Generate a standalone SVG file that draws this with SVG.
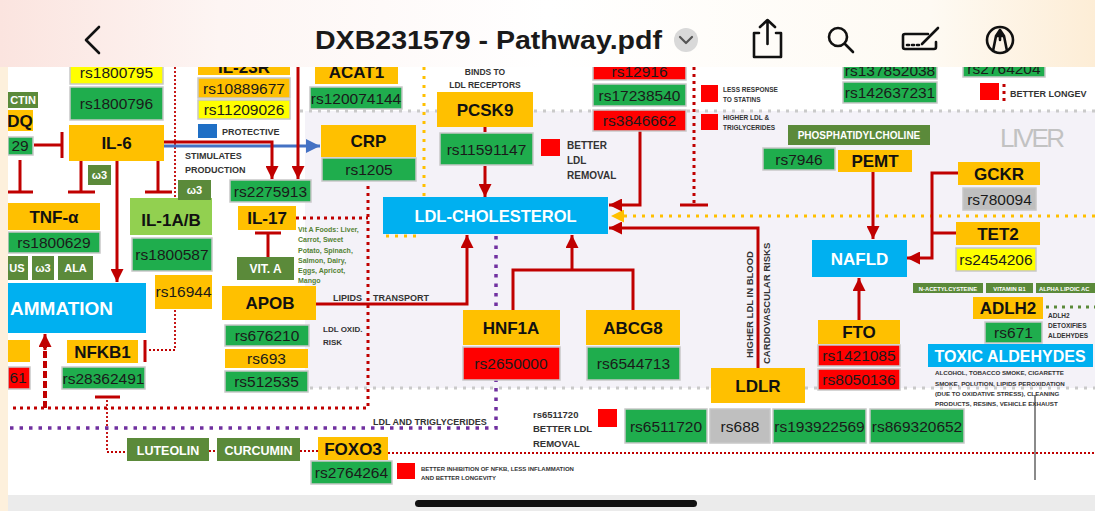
<svg xmlns="http://www.w3.org/2000/svg" width="1095" height="511" viewBox="0 0 1095 511">
<defs>
<linearGradient id="hdr" x1="0" y1="0" x2="1" y2="0">
<stop offset="0" stop-color="#fbe4df"/><stop offset="0.2" stop-color="#fdf5f3"/><stop offset="0.5" stop-color="#ffffff"/><stop offset="0.85" stop-color="#fefaf3"/><stop offset="1" stop-color="#fdedd6"/>
</linearGradient>
<marker id="ar" viewBox="0 0 12 12" refX="12" refY="6" markerWidth="13" markerHeight="13" markerUnits="userSpaceOnUse" orient="auto"><path d="M0,0 L12,6 L0,12 z" fill="#c00000"/></marker>
<marker id="ab" viewBox="0 0 12 12" refX="12" refY="6" markerWidth="14" markerHeight="14" markerUnits="userSpaceOnUse" orient="auto"><path d="M0,0 L12,6 L0,12 z" fill="#4472c4"/></marker>
<marker id="ay" viewBox="0 0 12 12" refX="12" refY="6" markerWidth="13" markerHeight="13" markerUnits="userSpaceOnUse" orient="auto"><path d="M0,0 L12,6 L0,12 z" fill="#ffc000"/></marker>
<style>
.o{fill:#ffc000}.g{fill:#1fad4d}.r{fill:#ff0000}.y{fill:#ffff00}.b{fill:#00b0f0}.d{fill:#5b8a3a}.l{fill:#92d050}.s{fill:#bfbfbf}
.k{stroke:#c8c8c8;stroke-width:1.5}
text{font-family:"Liberation Sans",Arial,sans-serif}
.n{font-weight:bold;font-size:17px;fill:#111;text-anchor:middle}
.v{font-size:15.5px;fill:#1a1a1a;text-anchor:middle}
.w{font-weight:bold;fill:#fff;text-anchor:middle}
.ws{font-weight:bold;fill:#fff;text-anchor:start}
.t{font-weight:bold;fill:#333}
.rl{stroke:#c00000;stroke-width:3;fill:none}
.rd{stroke:#c00000;stroke-width:3;fill:none;stroke-dasharray:3 4}
.rt{stroke:#c00000;stroke-width:1.8;fill:none;stroke-dasharray:2 2}
.pd{stroke:#7030a0;stroke-width:3.5;fill:none;stroke-dasharray:3.5 6}
.yd{stroke:#ffc000;stroke-width:3;fill:none;stroke-dasharray:3 6}
.gd{stroke:#cacaca;stroke-width:3;fill:none;stroke-dasharray:3 6}
.ic{stroke:#111;fill:none;stroke-width:2.6;stroke-linecap:round;stroke-linejoin:round}
</style>
</defs>

<rect x="0" y="0" width="1095" height="511" fill="#ffffff"/>
<rect x="305" y="111" width="790" height="277" fill="#f4f2f8"/>

<g id="connectors">
<path class="gd" d="M300,111 H1095"/>
<path class="gd" d="M310,388 H1095"/>
<path class="rt" d="M175,67 V200"/>
<path class="rd" d="M368,186 V408 H10"/>
<path class="rd" d="M296,218 H368"/>
<path class="rt" d="M175,310 V350 H148"/>
<path class="rl" d="M145,340 V362"/>
<path class="rl" d="M95,397 H120"/>
<path class="rt" d="M107,400 V452 H127"/>
<path class="rt" d="M209,451 H217"/>
<path class="rt" d="M300,451 H318"/>
<path class="rt" d="M388,453 H1095"/>
<path class="pd" d="M496,236 V428 H10"/>
<path class="yd" d="M424,67 V196"/>
<path class="yd" d="M386,236 H420"/>
<path class="yd" d="M1095,216 H611" marker-end="url(#ay)"/>
<path class="rd" d="M694,67 V205"/>
<path class="rl" d="M680,205 H708"/>
<path class="rd" d="M1004,84 V101"/>
<path stroke="#5b8a3a" stroke-width="3" fill="none" stroke-dasharray="3 5" d="M1046,307 H1095"/>
<path stroke="#8a8a8a" stroke-width="2" fill="none" d="M1035,395 V480"/>
<path class="rl" d="M34,145 H62 M62,132 V158"/>
<path class="rl" d="M20,160 V192 M8,192 H33"/>
<path class="rl" d="M81,161 V192 M68,192 H95"/>
<path class="rl" d="M158,161 V192 M145,192 H172"/>
<path class="rl" d="M117,161 V282" marker-end="url(#ar)"/>
<path stroke="#4472c4" stroke-width="3" fill="none" d="M164,146 H320" marker-end="url(#ab)"/>
<path class="rl" d="M164,142 H272 V179" marker-end="url(#ar)"/>
<path class="rl" d="M298,67 V179" marker-end="url(#ar)"/>
<path class="rl" d="M268,257 V233 M255,233 H281"/>
<path stroke="#c00000" stroke-width="4" fill="none" stroke-dasharray="7 3" d="M45,408 V346"/>
<path class="rl" d="M45,350 V334" marker-end="url(#ar)"/>
<path class="rl" d="M316,304 H467 V235" marker-end="url(#ar)"/>
<path class="rl" d="M485,127 V132"/>
<path class="rl" d="M485,166 V197" marker-end="url(#ar)"/>
<path class="rl" d="M640,131 V205 H609" marker-end="url(#ar)"/>
<path class="rl" d="M513,310 V270 H633 V310 M572,270 V235" marker-end="url(#ar)"/>
<path class="rl" d="M758,368 V228 H609" marker-end="url(#ar)"/>
<path class="rl" d="M873,172 V239" marker-end="url(#ar)"/>
<path class="rl" d="M958,173 H932 V258 H907" marker-end="url(#ar)"/>
<path class="rl" d="M956,233 H932"/>
<path class="rl" d="M859,320 V278" marker-end="url(#ar)"/>
</g>

<g id="adiponectin"><rect class="d" x="8" y="92" width="30" height="16"/><text class="w" x="23" y="104" font-size="11">CTIN</text></g>
<g id="adipoq"><rect class="o" x="8" y="110" width="25" height="21"/><text class="n" x="20" y="127">DQ</text></g>
<g id="adipoq-snp"><rect class="g k" x="8" y="137" width="25" height="18"/><text class="v" x="20" y="151">29</text></g>

<g id="il6-snps"><rect class="y k" x="70" y="55" width="93" height="29"/><text class="v" x="116.5" y="78">rs1800795</text>
<rect class="g k" x="70" y="87" width="93" height="33"/><text class="v" x="116.5" y="109">rs1800796</text></g>
<g id="il6"><rect class="o" x="69" y="125" width="95" height="36"/><text class="n" x="116.5" y="149">IL-6</text></g>
<g id="omega3-a"><rect class="d" x="88" y="165" width="23" height="20"/><text class="w" x="99.5" y="179" font-size="11">ω3</text></g>
<g id="stim"><text class="t" x="185" y="159" font-size="9">STIMULATES</text><text class="t" x="185" y="172.5" font-size="9">PRODUCTION</text></g>

<g id="tnfa"><rect class="o" x="8" y="203" width="92" height="27"/><text class="n" x="54" y="222.5">TNF-α</text>
<rect class="g k" x="8" y="232" width="92" height="21"/><text class="v" x="54" y="248">rs1800629</text></g>
<g id="tnf-supp"><rect class="d" x="8" y="256" width="20" height="24"/><text class="w" x="17" y="272" font-size="11">US</text>
<rect class="d" x="32" y="256" width="22" height="24"/><text class="w" x="43" y="272" font-size="11">ω3</text>
<rect class="d" x="58" y="256" width="35" height="24"/><text class="w" x="75.5" y="272" font-size="11">ALA</text></g>

<g id="il1"><rect class="l" x="130" y="198" width="82" height="37"/><text class="n" x="171" y="226">IL-1A/B</text>
<rect class="g k" x="132" y="238" width="80" height="33"/><text class="v" x="172" y="260">rs1800587</text>
<rect class="o" x="155" y="275" width="57" height="34"/><text class="v" x="183.5" y="297">rs16944</text></g>
<g id="omega3-b"><rect class="d" x="178" y="180" width="33" height="20"/><text class="w" x="194.5" y="194" font-size="11">ω3</text></g>

<g id="inflammation"><rect class="b" x="8" y="283" width="138" height="50"/><text class="ws" x="10" y="315" font-size="19">AMMATION</text></g>
<g id="left-cut"><rect class="o" x="8" y="340" width="22" height="22"/><rect class="r k" x="8" y="367" width="22" height="22"/><text class="v" x="18" y="383">61</text></g>
<g id="nfkb1"><rect class="o" x="67" y="340" width="71" height="23"/><text class="n" x="102.5" y="357.5">NFKB1</text>
<rect class="g k" x="62" y="367" width="83" height="22"/><text class="v" x="103.5" y="383.5">rs28362491</text></g>
<g id="luteolin"><rect class="d" x="127" y="438" width="82" height="23"/><text class="w" x="168" y="454.5" font-size="12.5">LUTEOLIN</text></g>
<g id="curcumin"><rect class="d" x="217" y="438" width="83" height="23"/><text class="w" x="258.5" y="454.5" font-size="12.5">CURCUMIN</text></g>
<g id="foxo3"><rect class="o" x="318" y="437" width="70" height="23"/><text class="n" x="353" y="454.5">FOXO3</text>
<rect class="g k" x="311" y="461" width="81" height="23"/><text class="v" x="351.5" y="478">rs2764264</text>
<rect class="r" x="397" y="463" width="18" height="16"/>
<text class="t" x="421" y="470.5" font-size="6">BETTER INHIBITION OF NFKB, LESS INFLAMMATION</text>
<text class="t" x="421" y="479.5" font-size="6">AND BETTER LONGEVITY</text></g>

<g id="il23r"><rect class="o" x="198" y="55" width="92" height="20"/><text class="n" x="244" y="73">IL-23R</text>
<rect class="o k" x="198" y="78" width="92" height="20"/><text class="v" x="244" y="93.5">rs10889677</text>
<rect class="y k" x="198" y="100" width="92" height="19"/><text class="v" x="244" y="115">rs11209026</text>
<rect x="198" y="124" width="19" height="14" fill="#1f6fc5"/><text class="t" x="222" y="134.5" font-size="9">PROTECTIVE</text></g>
<g id="il17"><rect class="g k" x="230" y="180" width="81" height="22"/><text class="v" x="270.5" y="197">rs2275913</text>
<rect class="o" x="238" y="206" width="58" height="24"/><text class="n" x="267" y="224">IL-17</text></g>
<g id="vita"><rect class="d" x="237" y="257" width="57" height="23"/><text class="w" x="265.5" y="273" font-size="12">VIT. A</text>
<g font-size="7" font-weight="bold" fill="#548235"><text x="298" y="232">Vit A Foods: Liver,</text><text x="298" y="242">Carrot, Sweet</text><text x="298" y="252.5">Potato, Spinach,</text><text x="298" y="262.5">Salmon, Dairy,</text><text x="298" y="273">Eggs, Apricot,</text><text x="298" y="283">Mango</text></g></g>
<g id="apob"><rect class="o" x="222" y="286" width="94" height="34"/><text class="n" x="270" y="309">APOB</text>
<rect class="g k" x="225" y="325" width="84" height="21"/><text class="v" x="267" y="341">rs676210</text>
<rect class="o" x="225" y="349" width="83" height="19"/><text class="v" x="266.5" y="364">rs693</text>
<rect class="g k" x="225" y="371" width="83" height="21"/><text class="v" x="266.5" y="387">rs512535</text>
<text class="t" x="333" y="301" font-size="9">LIPIDS</text><text class="t" x="373" y="301" font-size="9">TRANSPORT</text>
<text class="t" x="323" y="331.5" font-size="8">LDL OXID.</text><text class="t" x="323" y="345" font-size="8">RISK</text></g>
<text class="t" x="373" y="424.5" font-size="9">LDL AND TRIGLYCERIDES</text>

<g id="acat1"><rect class="o" x="315" y="55" width="83" height="29"/><text class="n" x="356.5" y="78">ACAT1</text>
<rect class="g k" x="310" y="87" width="92" height="22"/><text class="v" x="356" y="103.5">rs120074144</text></g>
<g id="crp"><rect class="o" x="321" y="125" width="95" height="32"/><text class="n" x="368.5" y="147">CRP</text>
<rect class="g k" x="322" y="158" width="94" height="23"/><text class="v" x="369" y="175">rs1205</text></g>

<g id="pcsk9"><text class="t" x="485" y="75" font-size="8.5" style="text-anchor:middle">BINDS TO</text><text class="t" x="485" y="88" font-size="8.5" style="text-anchor:middle">LDL RECEPTORS</text>
<rect class="o" x="437" y="92" width="96" height="35"/><text class="n" x="485" y="115.5">PCSK9</text>
<rect class="g k" x="440" y="133" width="93" height="32"/><text class="v" x="486.5" y="154.5">rs11591147</text>
<rect class="r" x="541" y="139" width="19" height="17"/>
<text class="t" x="567" y="149" font-size="10">BETTER</text><text class="t" x="567" y="164" font-size="10">LDL</text><text class="t" x="567" y="178.5" font-size="10">REMOVAL</text></g>

<g id="ldl"><rect class="b" x="383" y="197" width="225" height="37"/><text class="w" x="495.5" y="222" font-size="16.5">LDL-CHOLESTEROL</text></g>

<g id="hmgcr"><rect class="r k" x="593" y="55" width="93" height="25"/><text class="v" x="639.5" y="77">rs12916</text>
<rect class="g k" x="593" y="84" width="93" height="22"/><text class="v" x="639.5" y="100.5">rs17238540</text>
<rect class="r k" x="593" y="110" width="93" height="21"/><text class="v" x="639.5" y="126">rs3846662</text>
<rect class="r" x="701" y="85" width="17" height="17"/><text class="t" x="723" y="91.5" font-size="6.5">LESS RESPONSE</text><text class="t" x="723" y="101.5" font-size="6.5">TO STATINS</text>
<rect class="r" x="701" y="114" width="17" height="16"/><text class="t" x="723" y="119.5" font-size="6.5">HIGHER LDL &amp;</text><text class="t" x="723" y="129.5" font-size="6.5">TRIGLYCERIDES</text></g>

<g id="hnf1a"><rect class="o" x="463" y="310" width="97" height="35"/><text class="n" x="511" y="333.5">HNF1A</text>
<rect class="r k" x="463" y="347" width="97" height="33"/><text class="v" x="511" y="369">rs2650000</text></g>
<g id="abcg8"><rect class="o" x="586" y="310" width="94" height="35"/><text class="n" x="633" y="333.5">ABCG8</text>
<rect class="g k" x="587" y="347" width="93" height="33"/><text class="v" x="633.5" y="369">rs6544713</text></g>

<g id="ldlr"><text class="t" font-size="9.5" transform="translate(753,358) rotate(-90)">HIGHER LDL IN BLOOD</text>
<text class="t" font-size="9.5" transform="translate(770,364) rotate(-90)">CARDIOVASCULAR RISKS</text>
<rect class="o" x="711" y="368" width="94" height="35"/><text class="n" x="758" y="391.5">LDLR</text>
<rect class="g k" x="625" y="409" width="82" height="34"/><text class="v" x="666" y="431.5">rs6511720</text>
<rect class="s k" x="710" y="409" width="60" height="34"/><text class="v" x="740" y="431.5">rs688</text>
<rect class="g k" x="773" y="409" width="93" height="34"/><text class="v" x="819.5" y="431.5">rs193922569</text>
<rect class="g k" x="870" y="409" width="94" height="34"/><text class="v" x="917" y="431.5">rs869320652</text>
<text class="t" x="533" y="417.5" font-size="9.5">rs6511720</text><text class="t" x="533" y="432" font-size="9.5">BETTER LDL</text><text class="t" x="533" y="446.5" font-size="9.5">REMOVAL</text>
<rect class="r" x="598" y="409" width="19" height="18"/></g>

<g id="top-right"><rect class="g k" x="843" y="55" width="94" height="24"/><text class="v" x="890" y="76">rs137852038</text>
<rect class="g k" x="843" y="82" width="94" height="21"/><text class="v" x="890" y="98">rs142637231</text>
<rect class="g k" x="963" y="55" width="82" height="22"/><text class="v" x="1004" y="74">rs2764204</text>
<rect class="r" x="980" y="83" width="19" height="17"/><text class="t" x="1010" y="96.5" font-size="9">BETTER LONGEV</text></g>

<text x="1000" y="147" font-size="26" fill="#c2c2c2" textLength="65">LIVER</text>

<g id="pemt"><rect class="d" x="788" y="125" width="142" height="20"/><text class="w" x="859" y="138.5" font-size="10">PHOSPHATIDYLCHOLINE</text>
<rect class="g k" x="763" y="148" width="72" height="22"/><text class="v" x="799" y="164.5">rs7946</text>
<rect class="o" x="838" y="150" width="74" height="22"/><text class="n" x="875" y="167">PEMT</text></g>
<g id="gckr"><rect class="o" x="958" y="162" width="82" height="23"/><text class="n" x="999" y="179.5">GCKR</text>
<rect class="s k" x="963" y="188" width="73" height="22"/><text class="v" x="999.5" y="204.5">rs780094</text></g>
<g id="tet2"><rect class="o" x="956" y="222" width="84" height="23"/><text class="n" x="998" y="239.5">TET2</text>
<rect class="y k" x="956" y="248" width="80" height="23"/><text class="v" x="996" y="265">rs2454206</text></g>
<g id="nafld"><rect class="b" x="812" y="240" width="95" height="37"/><text class="w" x="859.5" y="264.5" font-size="17">NAFLD</text></g>
<g id="fto"><rect class="o" x="818" y="320" width="82" height="24"/><text class="n" x="859" y="338">FTO</text>
<rect class="r k" x="818" y="345" width="82" height="21"/><text class="v" x="859" y="361">rs1421085</text>
<rect class="r k" x="818" y="369" width="82" height="21"/><text class="v" x="859" y="385">rs8050136</text></g>
<g id="adlh2-supp"><rect class="d" x="913" y="283" width="70" height="10"/><text class="w" x="948" y="290.5" font-size="5.8">N-ACETYLCYSTEINE</text>
<rect class="d" x="986" y="283" width="47" height="10"/><text class="w" x="1009.5" y="290.5" font-size="5.8">VITAMIN B1</text>
<rect class="d" x="1036" y="283" width="60" height="10"/><text class="ws" x="1039" y="290.5" font-size="5.8">ALPHA LIPOIC AC</text></g>
<g id="adlh2"><rect class="o" x="973" y="297" width="70" height="22"/><text class="n" x="1008" y="314">ADLH2</text>
<rect class="g k" x="985" y="322" width="57" height="21"/><text class="v" x="1013.5" y="338">rs671</text>
<text class="t" x="1048" y="317.5" font-size="6.5">ADLH2</text><text class="t" x="1048" y="327.5" font-size="6.5">DETOXIFIES</text><text class="t" x="1048" y="337.5" font-size="6.5">ALDEHYDES</text></g>
<g id="toxic"><rect class="b" x="928" y="344" width="165" height="23"/><text class="w" x="1010" y="361.5" font-size="16">TOXIC ALDEHYDES</text>
<g font-size="6.2" font-weight="bold" fill="#333"><text x="935" y="375">ALCOHOL, TOBACCO SMOKE, CIGARETTE</text><text x="935" y="385.5">SMOKE, POLUTION, LIPIDS PEROXIDATION</text><text x="935" y="395.5">(DUE TO OXIDATIVE STRESS), CLEANING</text><text x="935" y="405.5">PRODUCTS, RESINS, VEHICLE EXHAUST</text></g></g>

<g id="chrome">
<rect x="0" y="0" width="1095" height="67" fill="url(#hdr)"/>
<rect x="0" y="67" width="8" height="444" fill="#fdf0dc"/>
<rect x="8" y="495" width="1087" height="16" fill="#ebebeb"/>
<rect x="415" y="500" width="282" height="7" rx="3.5" fill="#111"/>
<polyline class="ic" stroke-width="4" points="99,27 86,40 99,53"/>
<text x="315" y="49" font-size="26" font-weight="bold" fill="#1a1a1a" textLength="347" lengthAdjust="spacingAndGlyphs">DXB231579 - Pathway.pdf</text>
<circle cx="686" cy="40" r="12" fill="#d9d9d9"/>
<polyline points="680,37 686,43 692,37" fill="none" stroke="#555" stroke-width="2.2" stroke-linecap="round" stroke-linejoin="round"/>
<path class="ic" d="M759,33 H754 V57 H781 V33 H776 M767.5,20 V44 M760,27 L767.5,20 L775,27"/>
<circle class="ic" cx="838" cy="37" r="9"/><path class="ic" d="M845,44 L853,52"/>
<path class="ic" d="M928,34 H905 Q903,34 903,36 V47 Q903,49 905,49 H934 Q936,49 936,47 V42"/>
<path class="ic" stroke-width="1.8" d="M907,45 H909 M912,45 H914 M917,45 H919"/>
<path class="ic" stroke-width="3" d="M922,44 L938,28"/>
<circle class="ic" cx="1000" cy="40" r="13"/>
<path class="ic" stroke-width="2.2" d="M993,51 L996,36 L1000,30 L1004,36 L1007,51 M996,36 H1004 M1000,30 V40"/>
</g>
</svg>
